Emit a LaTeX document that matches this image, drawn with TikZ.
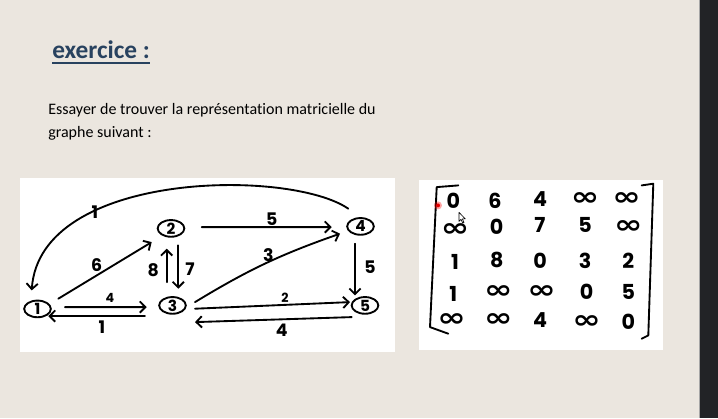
\documentclass[tikz,border=0pt]{standalone}
\usepackage{graphicx}
\usepackage{fontspec}
\setmainfont{Carlito}[Ligatures=NoCommon]
\newfontfamily\hand{Poppins}
\newfontfamily\symb{DejaVu Sans}
\usetikzlibrary{arrows.meta,shapes.geometric,calc}
\definecolor{paper}{HTML}{EBE6DF}
\definecolor{sidebar}{HTML}{222326}
\definecolor{titleblue}{HTML}{28425F}
\newcommand\infsign{\scalebox{1.6}[1.2]{\symb\bfseries\fontsize{16}{16}\selectfont\char"221E}}

\begin{document}
\begin{tikzpicture}[x=0.75pt,y=-0.75pt,
  state/.style={ellipse,draw,line width=1.4pt,minimum width=20pt,minimum height=12.5pt,
    inner sep=0pt,font=\hand\bfseries\fontsize{11.5}{11.5}\selectfont},
  edge/.style={line width=1.4pt,line cap=round,-{Straight Barb[length=4.2pt,width=8.5pt]}},
  wlabel/.style={font=\hand\bfseries\fontsize{13}{13}\selectfont,inner sep=0pt},
  smalllabel/.style={font=\hand\bfseries\fontsize{9.5}{9.5}\selectfont,inner sep=0pt},
  entry/.style={font=\hand\bfseries\fontsize{15.5}{15.5}\selectfont,inner sep=0pt},
  panel/.style={fill=white,draw=none},
  bracket/.style={line width=1.4pt,line cap=round,line join=round},
]
% page and side bar
\fill[paper] (0,0) rectangle (718,418);
\fill[sidebar] (699,0) rectangle (718,418);
\draw[gray!70,line width=0.6pt] (699,0) -- (699,418);

% heading
\node[anchor=base west,inner sep=0pt,text=titleblue,
  font=\bfseries\fontsize{19}{19}\selectfont] (title) at (52,58.5) {exercice :};
\draw[titleblue,line width=1.5pt] ($(title.base west)+(0,3.8)$) -- ($(title.base east)+(0,3.8)$);

% statement
\node[anchor=base west,inner sep=0pt,font=\fontsize{12}{12}\selectfont] (line1) at (48,114.3)
  {Essayer de trouver la représentation matricielle du};
\node[anchor=base west,inner sep=0pt,font=\fontsize{12}{12}\selectfont] (line2) at (48,137)
  {graphe suivant :};

% white panels
\fill[panel] (20,178) rectangle (395,352);
\fill[panel] (419,180) rectangle (663,350);

% graph vertices
\node[state] (n1) at (37.5,308.5) {1};
\node[state] (n2) at (171,228) {2};
\node[state] (n3) at (172.5,305) {3};
\node[state] (n4) at (360.5,226) {4};
\node[state] (n5) at (365,305) {5};

% weighted arcs
\draw[edge] ($(n1)+(20.8,-10.2)$) -- ($(n2)+(-19.3,13.7)$);
\draw[edge] ($(n1)+(27.5,-1.8)$) -- ($(n3)+(-25.8,1.7)$);
\draw[edge] ($(n3)+(-27.5,10.7)$) -- ($(n1)+(10.8,7.2)$);
\draw[edge] ($(n2)+(7.3,17)$) -- ($(n3)+(5.8,-16.7)$);
\draw[edge] ($(n3)+(-5.8,-23.3)$) -- ($(n2)+(-4.3,20.3)$);
\draw[edge] ($(n2)+(30.7,-1.3)$) -- ($(n4)+(-28.8,0.7)$);
\draw[edge] ($(n3)+(22.5,-3.3)$) to[bend left=6] ($(n4)+(-20.5,7.3)$);
\draw[edge] ($(n3)+(22.5,3.3)$) -- ($(n5)+(-15,-3.3)$);
\draw[edge] ($(n5)+(-13.3,11.7)$) -- ($(n3)+(22.5,16.7)$);
\draw[edge] ($(n4)+(-5.5,17.3)$) -- ($(n5)+(-10,-10)$);
\draw[edge] ($(n4)+(-12.2,-17.7)$) .. controls (290,168) and (40,170) .. ($(n1)+(-5.8,-18.5)$);

% arc weights
\node[wlabel] (w41) at (95,211.7) {1};
\node[wlabel] (w12) at (96.7,265) {6};
\node[smalllabel] (w13) at (110,297.7) {4};
\node[wlabel] (w31) at (102,326.7) {1};
\node[wlabel] (w32) at (153.3,270) {8};
\node[wlabel] (w23) at (190,268.3) {7};
\node[wlabel] (w24) at (271.7,218.3) {5};
\node[wlabel] (w34) at (268.3,255) {3};
\node[smalllabel] (w35) at (285,297.7) {2};
\node[wlabel] (w53) at (281.7,330) {4};
\node[wlabel] (w45) at (370,266.7) {5};

% matrix brackets
\draw[bracket] (458.3,185) -- (436.7,186.7) -- (430,326.7) -- (448.3,333.3);
\draw[bracket] (641.7,185) -- (653.3,183.3) -- (648.3,335) -- (641.7,338.3);

% matrix entries
\node[entry] (m11) at (453.3,200) {0};
\node[entry] (m12) at (495,200) {6};
\node[entry] (m13) at (540,198.3) {4};
\node[entry] (m14) at (585,198.3) {\infsign};
\node[entry] (m15) at (626.7,198.3) {\infsign};
\node[entry] (m21) at (455,229.5) {\infsign};
\node[entry] (m22) at (496.7,226.7) {0};
\node[entry] (m23) at (540,225) {7};
\node[entry] (m24) at (585,225) {5};
\node[entry] (m25) at (628.3,226.7) {\infsign};
\node[entry] (m31) at (455,261.7) {1};
\node[entry] (m32) at (496.7,260) {8};
\node[entry] (m33) at (540,260) {0};
\node[entry] (m34) at (585,260) {3};
\node[entry] (m35) at (628.3,260) {2};
\node[entry] (m41) at (453.3,293.3) {1};
\node[entry] (m42) at (498.3,291.7) {\infsign};
\node[entry] (m43) at (541.7,291.7) {\infsign};
\node[entry] (m44) at (586.7,291.7) {0};
\node[entry] (m45) at (628.3,291.7) {5};
\node[entry] (m51) at (451.7,320) {\infsign};
\node[entry] (m52) at (498.3,320) {\infsign};
\node[entry] (m53) at (540,320) {4};
\node[entry] (m54) at (586.7,321.7) {\infsign};
\node[entry] (m55) at (628.3,321.7) {0};

% pointer dot and mouse cursor
\fill[red,opacity=0.35] (438,205) circle (4);
\fill[red!90!black] (438,205) circle (2);
\draw[black,line width=0.5pt,fill=white,line join=round]
  (459,212) -- (459,221) -- (461,219) -- (462.7,222.6) -- (464,222) -- (462.4,218.5) -- (465.3,218.5) -- cycle;
\end{tikzpicture}
\end{document}
